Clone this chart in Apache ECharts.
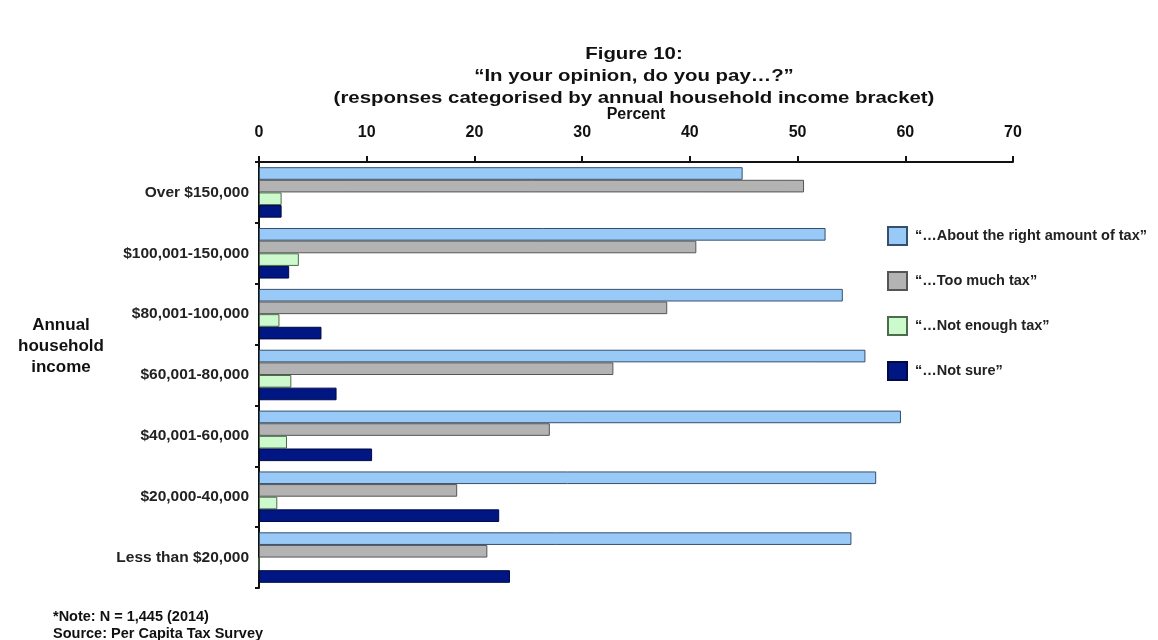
<!DOCTYPE html>
<html><head><meta charset="utf-8">
<script src="https://cdn.jsdelivr.net/npm/echarts@6/dist/echarts.min.js"></script>
<style>html,body{margin:0;padding:0;background:#fff}#c{width:1158px;height:640px}</style>
</head><body><div id="c"></div>
<script>
const categories = ['Over $150,000','$100,001-150,000','$80,001-100,000','$60,001-80,000','$40,001-60,000','$20,000-40,000','Less than $20,000'];
const seriesNames = ['“…About the right amount of tax”','“…Too much tax”','“…Not enough tax”','“…Not sure”'];
const aboutRight = [44.9, 52.6, 54.2, 56.3, 59.6, 57.3, 55.0];
const tooMuch    = [50.6, 40.6, 37.9, 32.9, 27.0, 18.4, 21.2];
const notEnough  = [2.1, 3.7, 1.9, 3.0, 2.6, 1.7, 0];
const notSure    = [2.1, 2.8, 5.8, 7.2, 10.5, 22.3, 23.3];
const xTicks = [0, 70, 10];
const titleLines = ['Figure 10:', '“In your opinion, do you pay…?”', '(responses categorised by annual household income bracket)'];

const FONT = '"Liberation Sans", Arial, sans-serif';
const styles = [
  {color:'#99c9f7', borderColor:'#34506e'},
  {color:'#b3b3b3', borderColor:'#555555'},
  {color:'#ccfacc', borderColor:'#4d6b4d'},
  {color:'#001682', borderColor:'#000a45'}
];
const values = [aboutRight, tooMuch, notEnough, notSure];

const chart = echarts.init(document.getElementById('c'), null, {renderer:'canvas'});
chart.setOption({
  backgroundColor:'#fff',
  animation:false,
  textStyle:{fontFamily:FONT},
  legend:{
    orient:'vertical', left:887, top:226, padding:0, itemWidth:19, itemHeight:18, itemGap:25,
    icon:'rect',
    textStyle:{fontFamily:FONT, fontSize:14.5, fontWeight:'bold', color:'#222', padding:[0,0,0,3]},
    data:seriesNames
  },
  grid:{left:259, right:145, top:162, bottom:52, containLabel:false},
  xAxis:{
    type:'value', position:'top', min:xTicks[0], max:xTicks[1], interval:xTicks[2],
    name:'Percent', nameLocation:'middle', nameGap:39, nameMoveOverlap:false,
    nameTextStyle:{fontFamily:FONT, fontSize:16, fontWeight:'bold', color:'#111'},
    axisLine:{show:true, lineStyle:{color:'#111', width:2}},
    axisTick:{show:true, length:6, lineStyle:{color:'#111', width:2}},
    axisLabel:{fontFamily:FONT, fontSize:16, fontWeight:'bold', color:'#111', margin:21},
    splitLine:{show:false}
  },
  yAxis:{
    type:'category', data:categories, inverse:true,
    axisLine:{show:true, lineStyle:{color:'#111', width:2}},
    axisTick:{show:true, length:4, lineStyle:{color:'#111', width:2}},
    axisLabel:{fontFamily:FONT, fontSize:15.5, fontWeight:'bold', color:'#222', margin:10},
    splitLine:{show:false}
  },
  series: seriesNames.map((n,i)=>({
    name:n, type:'bar', data:values[i], barGap:'0%', barCategoryGap:'17%',
    itemStyle:{color:styles[i].color, borderColor:styles[i].borderColor, borderWidth:1}
  })),
  graphic:[
    {type:'text', x:634, y:43, scaleX:1.2, style:{text:titleLines.join('\n'), fontFamily:FONT, fontSize:17, fontWeight:'bold', fill:'#111', align:'center', verticalAlign:'top', lineHeight:22}},
    {type:'text', x:61, y:346, style:{text:'Annual\nhousehold\nincome', fontFamily:FONT, fontSize:17, fontWeight:'bold', fill:'#111', align:'center', verticalAlign:'middle', lineHeight:21}},
    {type:'text', x:53, y:608, style:{text:'*Note: N = 1,445 (2014)\nSource: Per Capita Tax Survey', fontFamily:FONT, fontSize:14.5, fontWeight:'bold', fill:'#111', lineHeight:17}}
  ]
});
</script>
</body></html>
